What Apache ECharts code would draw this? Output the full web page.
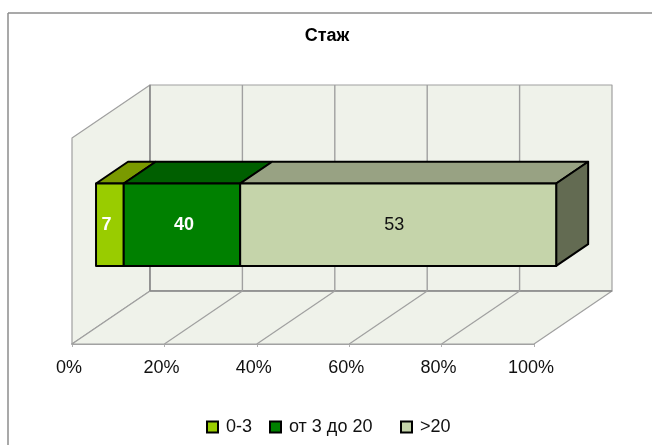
<!DOCTYPE html>
<html><head><meta charset="utf-8">
<style>html,body{margin:0;padding:0;background:#fff}#c{width:652px;height:445px}</style>
<script src="https://cdn.jsdelivr.net/npm/echarts@6/dist/echarts.min.js"></script>
</head><body><div id="c"></div>
<script>
// Data
const chartTitle = 'Стаж';
const seriesNames = ['0-3', 'от 3 до 20', '>20'];
const drawnShares = [6.0, 25.2, 68.4];   // lengths of the bar segments as drawn, in axis percent
const printedLabels = ['7', '40', '53']; // values printed on the segments (they differ from the drawn lengths in the reference)
const axisTicks = [0, 20, 40, 60, 80, 100];

// Style
const FONT = '"Liberation Sans", Arial, sans-serif';
const frontColors = ['#99CC00', '#008000', '#C5D4AA'];
const topColors = ['#7A9A00', '#005F00', '#98A283'];
const sideColor = '#636B52';
const labelColors = ['#fff', '#fff', '#111'];
const labelWeights = ['bold', 'bold', 'normal'];
const labelNudge = [-3.5, 2, -4];
const WALL = '#EFF2EA', GRID = '#A0A0A0';
const DX = 78, DY = 53;
const D0 = 0.308, D1 = 0.718, H0 = 0.3, H1 = 0.7;

function P(api, x, h, d) {
  const c = api.coord([x, h]);
  return [c[0] + d * DX, c[1] - d * DY];
}
function poly(points, fill, stroke, width) {
  return { type: 'polygon', shape: { points }, style: { fill, stroke, lineWidth: width, lineJoin: 'round' } };
}
function seg(a, b, color, width) {
  return { type: 'line', shape: { x1: a[0], y1: a[1], x2: b[0], y2: b[1] }, style: { stroke: color, lineWidth: width } };
}

const wallSeries = {
  type: 'custom', name: 'walls', silent: true, clip: false, z: 1,
  data: [[axisTicks[0], axisTicks[axisTicks.length - 1]]],
  renderItem(params, api) {
    const a = api.value(0), b = api.value(1);
    return { type: 'group', children: [
      poly([P(api,a,0,0), P(api,a,1,0), P(api,a,1,1), P(api,a,0,1)], WALL, GRID, 1.2),
      poly([P(api,a,0,1), P(api,a,1,1), P(api,b,1,1), P(api,b,0,1)], WALL, GRID, 1.2),
      poly([P(api,a,0,0), P(api,b,0,0), P(api,b,0,1), P(api,a,0,1)], WALL, GRID, 1.2),
      seg(P(api,a,0,1), P(api,a,1,1), '#8A8A8A', 1.5),
      seg(P(api,a,0,1), P(api,b,0,1), '#8A8A8A', 1.5)
    ]};
  }
};
const gridSeries = {
  type: 'custom', name: 'gridlines', silent: true, clip: false, z: 2,
  data: axisTicks.slice(1, -1).map(v => [v]),
  renderItem(params, api) {
    const v = api.value(0);
    return { type: 'group', children: [
      seg(P(api,v,0,0), P(api,v,0,1), GRID, 1.2),
      seg(P(api,v,0,1), P(api,v,1,1), GRID, 1.4)
    ]};
  }
};

let running = 0;
const barSeries = seriesNames.map((name, i) => {
  const start = running, end = running + drawnShares[i];
  running = end;
  const last = i === seriesNames.length - 1;
  return {
    type: 'custom', name, silent: true, clip: false, z: 3 + i,
    itemStyle: { color: frontColors[i], borderColor: '#000', borderWidth: 1.5 },
    data: [[start, end]],
    renderItem(params, api) {
      const a = api.value(0), b = api.value(1);
      const kids = [
        poly([P(api,a,H1,D0), P(api,b,H1,D0), P(api,b,H1,D1), P(api,a,H1,D1)], topColors[i], '#000', 2),
        poly([P(api,a,H0,D0), P(api,b,H0,D0), P(api,b,H1,D0), P(api,a,H1,D0)], frontColors[i], '#000', 2)
      ];
      if (last) kids.splice(1, 0, poly([P(api,b,H0,D0), P(api,b,H0,D1), P(api,b,H1,D1), P(api,b,H1,D0)], sideColor, '#000', 2));
      const mid = P(api, (a + b) / 2, (H0 + H1) / 2, D0);
      kids.push({ type: 'text', z2: 10, style: {
        x: mid[0] + labelNudge[i], y: mid[1], text: printedLabels[i], align: 'center', verticalAlign: 'middle',
        fill: labelColors[i], font: labelWeights[i] + ' 18px ' + FONT } });
      return { type: 'group', children: kids };
    }
  };
});

const legendLefts = [206, 269, 400];
const chart = echarts.init(document.getElementById('c'), null, { renderer: 'canvas' });
chart.setOption({
  animation: false,
  backgroundColor: '#fff',
  title: { text: chartTitle, left: 322, top: 22, textAlign: 'center',
    textStyle: { fontFamily: FONT, fontSize: 18, fontWeight: 'bold', color: '#000' } },
  grid: { left: 72, width: 462, top: 138, height: 206, containLabel: false },
  xAxis: { type: 'value', min: 0, max: 100, interval: 20,
    axisLine: { show: true, onZero: false, lineStyle: { color: '#868686', width: 1.5 } },
    axisTick: { show: true, length: 3, lineStyle: { color: '#B0B0B0', width: 1 } },
    splitLine: { show: false },
    axisLabel: { formatter: '{value}%', margin: 15, padding: [0, 6, 0, 0], fontFamily: FONT, fontSize: 18, color: '#111' } },
  yAxis: { type: 'value', min: 0, max: 1, show: false },
  legend: seriesNames.map((n, i) => ({
    data: [n], left: legendLefts[i], top: 418, icon: 'rect', itemWidth: 11, itemHeight: 11, itemGap: 0, padding: 0, selectedMode: false,
    textStyle: { fontFamily: FONT, fontSize: 18, color: '#111', padding: [0, 0, 0, 3] }
  })),
  graphic: [
    { type: 'line', silent: true, shape: { x1: 8, y1: 13, x2: 652, y2: 13 }, style: { stroke: '#8C8C8C', lineWidth: 1.5 } },
    { type: 'line', silent: true, shape: { x1: 8, y1: 13, x2: 8, y2: 445 }, style: { stroke: '#8C8C8C', lineWidth: 1.5 } }
  ],
  series: [wallSeries, gridSeries].concat(barSeries)
});
</script></body></html>
